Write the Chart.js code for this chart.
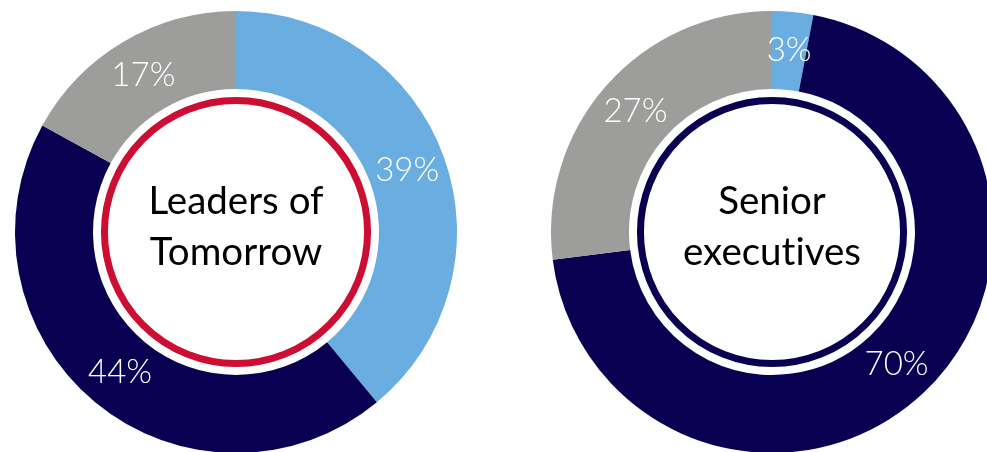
<!DOCTYPE html>
<html>
<head>
<meta charset="utf-8">
<script src="https://cdn.jsdelivr.net/npm/chart.js@4/dist/chart.umd.min.js"></script>
<style>
  html, body { margin: 0; padding: 0; background: #fff; }
  #wrap { position: relative; width: 987px; height: 452px; overflow: hidden; }
  .donut { position: absolute; top: 11px; width: 442px; height: 442px; }
  #left { left: 14.5px; }
  #right { left: 551px; }
</style>
</head>
<body>
<div id="wrap">
  <div class="donut" id="left"><canvas id="leadersChart"></canvas></div>
  <div class="donut" id="right"><canvas id="seniorChart"></canvas></div>
</div>
<script>
// answer shares per group, clockwise from 12 o'clock
const sliceLabels = ['Option A', 'Option B', 'Option C'];
const leadersValues = [39, 44, 17];
const seniorValues = [3, 70, 27];
const leadersTitle = ['Leaders of', 'Tomorrow'];
const seniorTitle = ['Senior', 'executives'];
const sliceColors = ['#6AADE0', '#0A0052', '#9D9E9C'];

const LABEL_FONT = '300 33px Lato, "Open Sans", sans-serif';
const TITLE_FONT = '38.5px Lato, "Open Sans", sans-serif';

// white % labels at the middle of each slice, plus ring and title in the hole
const donutDecor = {
  id: 'donutDecor',
  afterDatasetsDraw(chart, args, opts) {
    const ctx = chart.ctx;
    const meta = chart.getDatasetMeta(0);
    const values = chart.data.datasets[0].data;

    ctx.save();
    // tiny spacing keeps Lato from joining "ti" into a ligature
    ctx.letterSpacing = '0.01px';
    ctx.fillStyle = '#fff';
    ctx.font = LABEL_FONT;
    ctx.textAlign = 'center';
    ctx.textBaseline = 'middle';
    meta.data.forEach((arc, i) => {
      const p = arc.getCenterPoint();
      ctx.fillText(values[i] + '%', p.x, p.y);
    });

    const first = meta.data[0];
    const cx = first.x, cy = first.y;
    const ringR = first.innerRadius * 0.92;
    ctx.beginPath();
    ctx.arc(cx, cy, ringR, 0, Math.PI * 2);
    ctx.lineWidth = 7;
    ctx.strokeStyle = opts.ringColor;
    ctx.stroke();

    ctx.fillStyle = '#000';
    ctx.font = TITLE_FONT;
    const lines = opts.title;
    const lh = 51;
    lines.forEach((line, i) => {
      ctx.fillText(line, cx, cy - 5 + (i - (lines.length - 1) / 2) * lh);
    });
    ctx.restore();
  }
};

function makeDonut(id, values, title, ringColor) {
  return new Chart(document.getElementById(id), {
    type: 'doughnut',
    data: {
      labels: sliceLabels,
      datasets: [{
        data: values,
        backgroundColor: sliceColors,
        borderWidth: 0
      }]
    },
    options: {
      responsive: true,
      maintainAspectRatio: false,
      animation: false,
      cutout: '64.7%',
      layout: { padding: 0 },
      plugins: {
        legend: { display: false },
        tooltip: { enabled: false },
        donutDecor: { title: title, ringColor: ringColor }
      }
    },
    plugins: [donutDecor]
  });
}

makeDonut('leadersChart', leadersValues, leadersTitle, '#CC0E33');
makeDonut('seniorChart', seniorValues, seniorTitle, '#0A0052');
</script>
</body>
</html>
